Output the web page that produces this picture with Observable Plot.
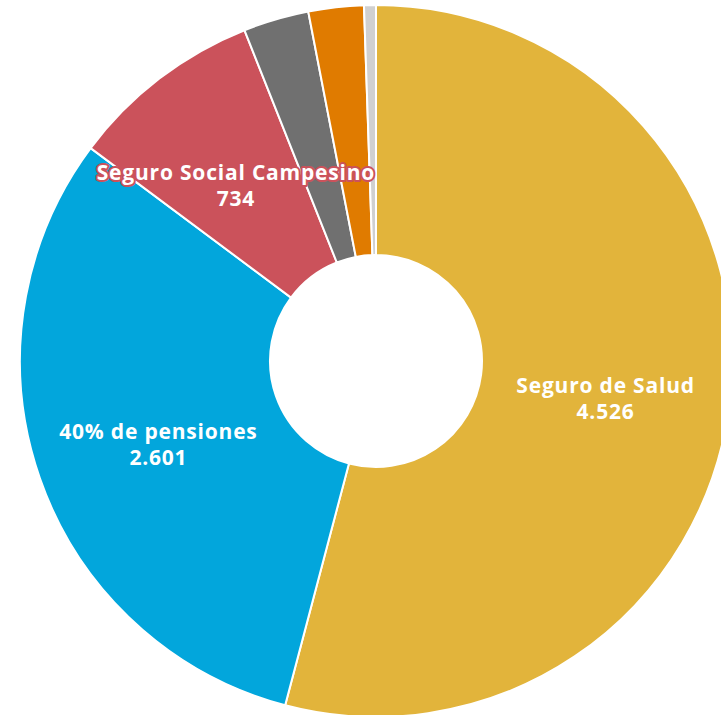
<!DOCTYPE html>
<html>
<head>
<meta charset="utf-8">
<script src="https://cdn.jsdelivr.net/npm/d3@7"></script>
<script src="https://cdn.jsdelivr.net/npm/@observablehq/plot@0.6"></script>
<style>
  html, body { margin: 0; padding: 0; background: #fff; overflow: hidden; }
  #chart svg { display: block; overflow: hidden; }
  #chart text { letter-spacing: 0.8px; }
</style>
</head>
<body>
<div id="chart"></div>
<script>
// ---- data ----
const categories = ["Seguro de Salud", "40% de pensiones", "Seguro Social Campesino", "Riesgos del Trabajo", "Cesantía", "Otros"];
const values = [4526, 2601, 734, 249, 210, 45];
const showLabel = [true, true, true, false, false, false];
const colors = ["#E2B43B", "#02A6DC", "#CB525B", "#707070", "#E07B00", "#D0D0D0"];

// ---- layout ----
const W = 721, H = 715;
const cx = 376, cy = 361, R = 356;
const innerFrac = 106 / 356;

const locale = d3.formatLocale({decimal: ",", thousands: ".", grouping: [3], currency: ["$", ""]});
const fmt = locale.format(",d");

const rows = categories.map((c, i) => ({category: c, value: values[i], color: colors[i], show: showLabel[i]}));
const arcs = d3.pie().sort(null).value(d => d.value)(rows);

const unitArc = d3.arc().innerRadius(innerFrac).outerRadius(1);
const labelRows = arcs.filter(a => a.data.show).map(a => {
  const [x, y] = unitArc.centroid(a);
  return {x, y, label: a.data.category + "\n" + fmt(a.data.value), color: a.data.color};
});

// custom slice mark drawn through Plot's x/y scales
function slices(index, scales) {
  const x = scales.x, y = scales.y;
  const ox = x(0), oy = y(0);
  const r = x(1) - x(0);
  const arc = d3.arc().innerRadius(r * innerFrac).outerRadius(r);
  const g = d3.create("svg:g").attr("transform", `translate(${ox},${oy})`);
  g.selectAll("path").data(arcs).join("path")
    .attr("d", arc)
    .attr("fill", d => d.data.color)
    .attr("stroke", "white")
    .attr("stroke-width", 2)
    .attr("stroke-linejoin", "round");
  return g.node();
}

const chart = Plot.plot({
  width: W,
  height: H,
  margin: 0,
  x: {domain: [-1, 1], range: [cx - R, cx + R], axis: null},
  y: {domain: [-1, 1], range: [cy - R, cy + R], axis: null},
  style: {background: "white"},
  marks: [
    slices,
    Plot.text(labelRows, {
      x: "x", y: "y", text: "label",
      dy: 6,
      fill: "white",
      stroke: "color",
      strokeWidth: 4,
      paintOrder: "stroke",
      strokeLinejoin: "round",
      fontWeight: "bold",
      fontSize: 21,
      lineHeight: 1.24,
      fontFamily: "'Open Sans', 'Noto Sans', sans-serif"
    })
  ]
});
document.getElementById("chart").appendChild(chart);
</script>
</body>
</html>
